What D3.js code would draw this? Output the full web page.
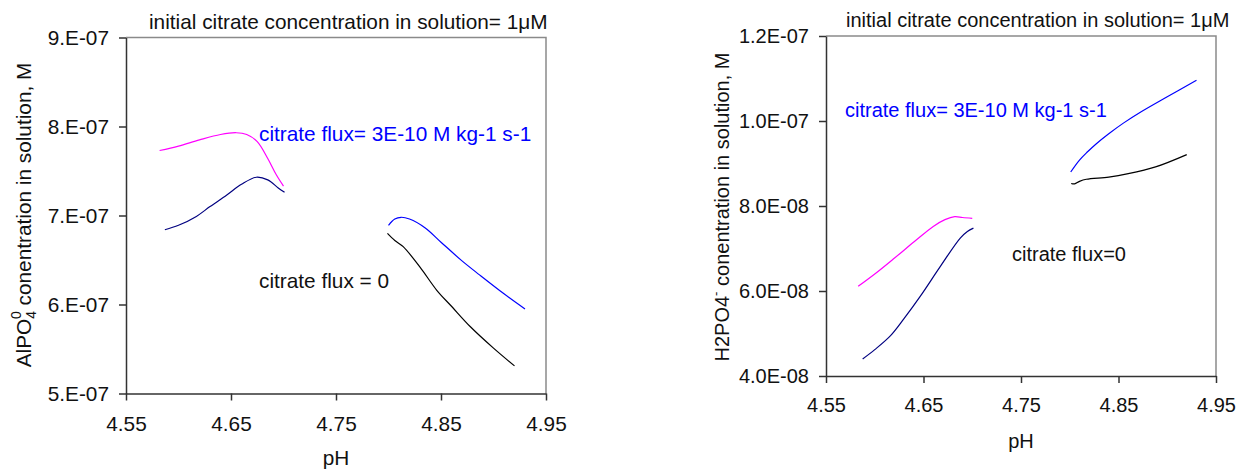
<!DOCTYPE html>
<html><head><meta charset="utf-8">
<script src="https://cdn.jsdelivr.net/npm/d3@7"></script>
<style>
body{margin:0;background:#fff;}
svg text{font-family:"Liberation Sans",Arial,sans-serif;}
</style></head>
<body><svg id="c" width="1252" height="470"></svg>
<script>
// ---------- data ----------
const xTicks = [4.55, 4.65, 4.75, 4.85, 4.95];
const yTicksL = [5e-7, 6e-7, 7e-7, 8e-7, 9e-7];
const yTickLabelsL = ["5.E-07", "6.E-07", "7.E-07", "8.E-07", "9.E-07"];
const yTicksR = [4e-8, 6e-8, 8e-8, 1.0e-7, 1.2e-7];
const yTickLabelsR = ["4.0E-08", "6.0E-08", "8.0E-08", "1.0E-07", "1.2E-07"];

// Left chart: AlPO4(0)
const pinkL_pH = [4.582, 4.600, 4.620, 4.640, 4.655, 4.665, 4.675, 4.685, 4.693, 4.700];
const pinkL_val = [7.73e-7, 7.78e-7, 7.85e-7, 7.91e-7, 7.93e-7, 7.91e-7, 7.83e-7, 7.64e-7, 7.46e-7, 7.33e-7];
const navyL_pH = [4.587, 4.600, 4.617, 4.630, 4.646, 4.660, 4.674, 4.685, 4.695, 4.701];
const navyL_val = [6.84e-7, 6.89e-7, 6.99e-7, 7.10e-7, 7.23e-7, 7.35e-7, 7.43e-7, 7.40e-7, 7.31e-7, 7.26e-7];
const blueL_pH = [4.800, 4.806, 4.812, 4.820, 4.835, 4.850, 4.870, 4.887, 4.910, 4.930];
const blueL_val = [6.89e-7, 6.96e-7, 6.98e-7, 6.96e-7, 6.86e-7, 6.70e-7, 6.49e-7, 6.33e-7, 6.12e-7, 5.95e-7];
const blackL_pH = [4.799, 4.806, 4.814, 4.830, 4.846, 4.860, 4.878, 4.900, 4.920];
const blackL_val = [6.80e-7, 6.72e-7, 6.65e-7, 6.42e-7, 6.16e-7, 5.98e-7, 5.75e-7, 5.51e-7, 5.31e-7];

// Right chart: H2PO4-
const pinkR_pH = [4.583, 4.600, 4.620, 4.641, 4.660, 4.672, 4.682, 4.690, 4.700];
const pinkR_val = [6.11e-8, 6.40e-8, 6.77e-8, 7.17e-8, 7.52e-8, 7.68e-8, 7.75e-8, 7.73e-8, 7.71e-8];
const navyR_pH = [4.5876, 4.600, 4.6162, 4.630, 4.6468, 4.6673, 4.6877, 4.695, 4.7012];
const navyR_val = [4.40e-8, 4.62e-8, 4.95e-8, 5.35e-8, 5.88e-8, 6.58e-8, 7.245e-8, 7.40e-8, 7.48e-8];
const blueR_pH = [4.801, 4.810, 4.818, 4.827, 4.840, 4.855, 4.872, 4.900, 4.930];
const blueR_val = [8.80e-8, 9.08e-8, 9.27e-8, 9.46e-8, 9.70e-8, 9.95e-8, 1.020e-7, 1.057e-7, 1.096e-7];
const blackR_pH = [4.8015, 4.805, 4.810, 4.817, 4.840, 4.860, 4.888, 4.920];
const blackR_val = [8.53e-8, 8.52e-8, 8.58e-8, 8.63e-8, 8.68e-8, 8.76e-8, 8.92e-8, 9.21e-8];

const titleText = "initial citrate concentration in solution= 1\u03BCM";
const fluxLabel = "citrate flux= 3E-10 M kg-1 s-1";
const zeroLabelL = "citrate flux = 0";
const zeroLabelR = "citrate flux=0";
const xLabel = "pH";

// ---------- drawing ----------
const svg = d3.select("#c");
const zip = (a, b) => a.map((v, i) => [v, b[i]]);

function panel(opt) {
  const x = d3.scaleLinear().domain([4.55, 4.95]).range([opt.x0, opt.x1]);
  const y = d3.scaleLinear().domain(opt.yDomain).range([opt.y1, opt.y0]);
  const g = svg.append("g");
  g.append("path")
    .attr("d", `M${opt.x0},${opt.y0}H${opt.x1}V${opt.y1}`)
    .attr("fill", "none").attr("stroke", "#8a8a8a").attr("stroke-width", 1.5);
  const yAxis = d3.axisLeft(y).tickValues(opt.yTicks)
    .tickFormat((d, i) => opt.yLabels[i]).tickSize(7).tickSizeOuter(0).tickPadding(10);
  const xAxis = d3.axisBottom(x).tickValues(xTicks)
    .tickFormat(d3.format(".2f")).tickSize(7).tickSizeOuter(0).tickPadding(opt.xPad);
  const ga = g.append("g").attr("transform", `translate(${opt.x0},0)`).call(yAxis);
  const gb = g.append("g").attr("transform", `translate(0,${opt.y1})`).call(xAxis);
  [ga, gb].forEach(a => {
    a.selectAll("path,line").attr("stroke", "#333").attr("stroke-width", 1.5);
    a.selectAll("text").attr("font-size", opt.fs).attr("font-family", "Liberation Sans, Arial, sans-serif").attr("fill", "#111");
  });
  const line = d3.line().x(d => x(d[0])).y(d => y(d[1])).curve(d3.curveCatmullRom.alpha(0.5));
  opt.series.forEach(s => {
    g.append("path").datum(zip(s.px, s.py)).attr("d", line)
      .attr("fill", "none").attr("stroke", s.color).attr("stroke-width", 1.2);
  });
  return {g, x, y};
}

const FL = 20.8, FR = 20;
panel({
  x0: 126, x1: 546, y0: 37.5, y1: 393.5, yDomain: [5e-7, 9e-7], fs: FL,
  yTicks: yTicksL, yLabels: yTickLabelsL, xPad: 16,
  series: [
    {px: pinkL_pH, py: pinkL_val, color: "#ff00ff"},
    {px: navyL_pH, py: navyL_val, color: "#000080"},
    {px: blueL_pH, py: blueL_val, color: "#0000ff"},
    {px: blackL_pH, py: blackL_val, color: "#000000"}
  ]
});
panel({
  x0: 826, x1: 1216, y0: 36, y1: 376, yDomain: [4e-8, 1.2e-7], fs: FR,
  yTicks: yTicksR, yLabels: yTickLabelsR, xPad: 15,
  series: [
    {px: pinkR_pH, py: pinkR_val, color: "#ff00ff"},
    {px: navyR_pH, py: navyR_val, color: "#000080"},
    {px: blueR_pH, py: blueR_val, color: "#0000ff"},
    {px: blackR_pH, py: blackR_val, color: "#000000"}
  ]
});

function txt(x, y, s, size, color, anchor) {
  return svg.append("text").attr("x", x).attr("y", y).attr("font-size", size)
    .attr("fill", color || "#111").attr("text-anchor", anchor || "start").text(s);
}
txt(149, 29, titleText, FL);
txt(846, 27, titleText, FR);
txt(259, 141, fluxLabel, FL, "#0000ff");
txt(259, 288, zeroLabelL, FL, "#111");
txt(845, 117, fluxLabel, FR, "#0000ff");
txt(1012, 261, zeroLabelR, FR, "#111");
txt(336, 465, xLabel, FL, "#111", "middle");
txt(1021, 448, xLabel, FR, "#111", "middle");

const yl = svg.append("text").attr("transform", "translate(31,215) rotate(-90)")
  .attr("text-anchor", "middle").attr("font-size", FL).attr("fill", "#111");
yl.append("tspan").text("AlPO");
yl.append("tspan").attr("font-size", 14).attr("dy", 5).text("4");
yl.append("tspan").attr("font-size", 14).attr("dx", -8).attr("dy", -15).text("0");
yl.append("tspan").attr("dy", 10).text(" conentration in solution, M");

const yr = svg.append("text").attr("transform", "translate(729,207) rotate(-90)")
  .attr("text-anchor", "middle").attr("font-size", FR).attr("fill", "#111");
yr.append("tspan").text("H2PO4");
yr.append("tspan").attr("font-size", 13).attr("dy", -9).text("-");
yr.append("tspan").attr("dy", 9).text(" conentration in solution, M");
</script></body></html>
